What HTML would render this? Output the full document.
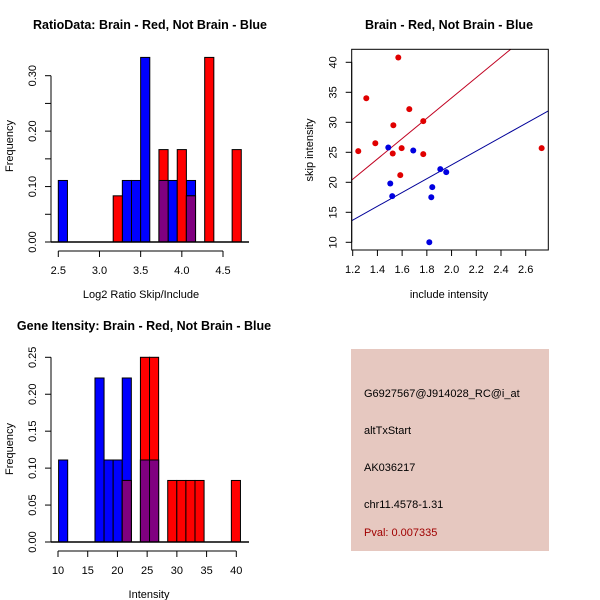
<!DOCTYPE html>
<html><head><meta charset="utf-8"><style>
body{margin:0;background:#fff}
svg{display:block;font-family:"Liberation Sans",sans-serif}
</style></head><body>
<svg id="s" width="600" height="600" viewBox="0 0 600 600">
<rect width="600" height="600" fill="#fff"/>
<text x="150" y="29" text-anchor="middle" font-size="12.5" font-weight="bold">RatioData: Brain - Red, Not Brain - Blue</text>
<text x="449" y="29" text-anchor="middle" font-size="12.5" font-weight="bold">Brain - Red, Not Brain - Blue</text>
<text x="144" y="330" text-anchor="middle" font-size="12.5" font-weight="bold">Gene Itensity: Brain - Red, Not Brain - Blue</text>
<text x="141" y="298" text-anchor="middle" font-size="11">Log2 Ratio Skip/Include</text>
<text x="13" y="146" text-anchor="middle" font-size="11" transform="rotate(-90 13 146)">Frequency</text>
<text x="449" y="298" text-anchor="middle" font-size="11">include intensity</text>
<text x="313" y="150" text-anchor="middle" font-size="11" transform="rotate(-90 313 150)">skip intensity</text>
<text x="149" y="598" text-anchor="middle" font-size="11">Intensity</text>
<text x="13" y="449" text-anchor="middle" font-size="11" transform="rotate(-90 13 449)">Frequency</text>
<g>
<rect x="351" y="349" width="198" height="202" fill="#e6c8c0"/>
<text x="364" y="397" font-size="11">G6927567@J914028_RC@i_at</text>
<text x="364" y="434" font-size="11">altTxStart</text>
<text x="364" y="471" font-size="11">AK036217</text>
<text x="364" y="508" font-size="11">chr11.4578-1.31</text>
<text x="364" y="536" font-size="11" fill="#a00000">Pval: 0.007335</text>
</g>
</svg>
<script>
// Histogram 1 data
const ratioStart = 2.5, ratioWidth = 0.1111;
const ratioBlueBins = [0, 7, 8, 9, 11, 12, 14];
const ratioBlueFreq = [0.111, 0.111, 0.111, 0.333, 0.111, 0.111, 0.111];
const ratioRedBins = [6, 11, 13, 14, 16, 19];
const ratioRedFreq = [0.0833, 0.1667, 0.1667, 0.0833, 0.333, 0.1667];
const ratioXTicks = [2.5, 3.0, 3.5, 4.0, 4.5];
const ratioXLabels = ["2.5", "3.0", "3.5", "4.0", "4.5"];
const ratioYTicks = [0, 0.05, 0.10, 0.15, 0.20, 0.25, 0.30];
const ratioYLabels = ["0.00", "", "0.10", "", "0.20", "", "0.30"];
// Histogram 2 data
const intStart = 10.1, intWidth = 1.53;
const intBlueBins = [0, 4, 5, 6, 7, 9, 10];
const intBlueFreq = [0.111, 0.222, 0.111, 0.111, 0.222, 0.111, 0.111];
const intRedBins = [7, 9, 10, 12, 13, 14, 15, 19];
const intRedFreq = [0.0833, 0.25, 0.25, 0.0833, 0.0833, 0.0833, 0.0833, 0.0833];
const intXTicks = [10, 15, 20, 25, 30, 35, 40];
const intXLabels = ["10", "15", "20", "25", "30", "35", "40"];
const intYTicks = [0, 0.05, 0.10, 0.15, 0.20, 0.25];
const intYLabels = ["0.00", "0.05", "0.10", "0.15", "0.20", "0.25"];
// Scatter data
const redX = [1.245, 1.31, 1.569, 1.383, 1.529, 1.524, 1.596, 1.585, 1.658, 1.771, 1.771, 2.729];
const redY = [25.2, 34.0, 40.8, 26.5, 29.5, 24.8, 25.7, 21.2, 32.2, 30.2, 24.7, 25.7];
const blueX = [1.488, 1.504, 1.52, 1.69, 1.909, 1.957, 1.844, 1.836, 1.82];
const blueY = [25.8, 19.8, 17.7, 25.3, 22.2, 21.7, 19.2, 17.5, 10.0];
const redFit = [0.16, 16.95];   // intercept, slope
const blueFit = [-0.1, 11.5];
const scXTicks = [1.2, 1.4, 1.6, 1.8, 2.0, 2.2, 2.4, 2.6];
const scXLabels = ["1.2", "1.4", "1.6", "1.8", "2.0", "2.2", "2.4", "2.6"];
const scYTicks = [10, 15, 20, 25, 30, 35, 40];
const scYLabels = ["10", "15", "20", "25", "30", "35", "40"];

const NS = "http://www.w3.org/2000/svg";
const svg = document.getElementById('s');
function mk(tag, attrs, parent) {
  const e = document.createElementNS(NS, tag);
  for (const k in attrs) e.setAttribute(k, attrs[k]);
  (parent || svg).appendChild(e);
  return e;
}
function lin(d0, d1, r0, r1) { return v => r0 + (v - d0) * (r1 - r0) / (d1 - d0); }

function hist(cfg) {
  const g = mk('g', {});
  
  
  const x = cfg.x, y = cfg.y;
  function bar(start, w, bin, f, fill, name) {
    const x0 = x(start + bin * w), x1 = x(start + (bin + 1) * w);
    const r = mk('rect', {x: x0, y: y(f), width: x1 - x0, height: y(0) - y(f), fill: fill, stroke: '#000', 'stroke-width': 1}, g);
    
    
  }
  cfg.bb.forEach((b, i) => bar(cfg.start, cfg.w, b, cfg.bf[i], '#0000ff', 'blue-bar'));
  cfg.rb.forEach((b, i) => bar(cfg.start, cfg.w, b, cfg.rf[i], '#ff0000', 'red-bar'));
  cfg.rb.forEach((b, i) => {
    const j = cfg.bb.indexOf(b);
    if (j >= 0) bar(cfg.start, cfg.w, b, Math.min(cfg.rf[i], cfg.bf[j]), '#800080', 'overlap-bar');
  });
  const base = mk('line', {x1: cfg.baseX0, x2: cfg.baseX1, y1: y(0), y2: y(0), stroke: '#000', 'stroke-width': 1.5}, g);
  
  
  axisX(g, cfg.xt, cfg.xl, x, cfg.axY);
  axisY(g, cfg.yt, cfg.yl, y, cfg.axX);
}
function axisX(g, ticks, labels, x, ay) {
  const a = mk('g', {}, g);
  
  
  mk('line', {x1: x(ticks[0]), x2: x(ticks[ticks.length - 1]), y1: ay, y2: ay, stroke: '#000'}, a);
  ticks.forEach((t, i) => {
    mk('line', {x1: x(t), x2: x(t), y1: ay, y2: ay + 6, stroke: '#000'}, a);
    const tx = mk('text', {x: x(t), y: ay + 23, 'text-anchor': 'middle', 'font-size': 11}, a);
    
    
    tx.textContent = labels[i];
  });
}
function axisY(g, ticks, labels, y, ax) {
  const a = mk('g', {}, g);
  
  
  mk('line', {x1: ax, x2: ax, y1: y(ticks[0]), y2: y(ticks[ticks.length - 1]), stroke: '#000'}, a);
  ticks.forEach((t, i) => {
    mk('line', {x1: ax - 6, x2: ax, y1: y(t), y2: y(t), stroke: '#000'}, a);
    if (labels[i]) {
      const lx = ax - 15;
      const tx = mk('text', {x: lx, y: y(t), 'text-anchor': 'middle', 'font-size': 11, transform: `rotate(-90 ${lx} ${y(t)})`}, a);
      
      
      tx.textContent = labels[i];
    }
  });
}

hist({name: 'ratio-histogram', x: lin(2.5, 4.5, 58.3, 223), y: lin(0, 0.3, 242, 75.7),
  start: ratioStart, w: ratioWidth, bb: ratioBlueBins, bf: ratioBlueFreq, rb: ratioRedBins, rf: ratioRedFreq,
  xt: ratioXTicks, xl: ratioXLabels, yt: ratioYTicks, yl: ratioYLabels, axY: 251, axX: 51, baseX0: 51, baseX1: 249});
hist({name: 'intensity-histogram', x: lin(10, 40, 58, 236.3), y: lin(0, 0.25, 542, 357.3),
  start: intStart, w: intWidth, bb: intBlueBins, bf: intBlueFreq, rb: intRedBins, rf: intRedFreq,
  xt: intXTicks, xl: intXLabels, yt: intYTicks, yl: intYLabels, axY: 551, axX: 51, baseX0: 51, baseX1: 249});

// Scatter
(function () {
  const g = mk('g', {});
  
  
  const x = lin(1.2, 2.6, 352.7, 525.7), y = lin(10, 40, 242.3, 62.3);
  const L = 351.7, R = 548.3, T = 49.3, B = 250;
  const cp = mk('clipPath', {id: 'scClip'}, g);
  mk('rect', {x: L, y: T, width: R - L, height: B - T}, cp);
  const lines = mk('g', {'clip-path': 'url(#scClip)'}, g);
  [[redFit, '#c00020', 'red-fit-line'], [blueFit, '#000099', 'blue-fit-line']].forEach(([f, c, n]) => {
    const x0 = 1.1, x1 = 2.9;
    const l = mk('line', {x1: x(x0), y1: y(f[0] + f[1] * x0), x2: x(x1), y2: y(f[0] + f[1] * x1), stroke: c, 'stroke-width': 1}, lines);
    
    
  });
  redX.forEach((v, i) => {
    const c = mk('circle', {cx: x(v), cy: y(redY[i]), r: 3, fill: '#e00000'}, g);
    
    
  });
  blueX.forEach((v, i) => {
    const c = mk('circle', {cx: x(v), cy: y(blueY[i]), r: 3, fill: '#0000e0'}, g);
    
    
  });
  const box = mk('rect', {x: L, y: T, width: R - L, height: B - T, fill: 'none', stroke: '#000'}, g);
  
  
  axisX(g, scXTicks, scXLabels, x, B);
  axisY(g, scYTicks, scYLabels, y, L);
})();
</script>
</body></html>
